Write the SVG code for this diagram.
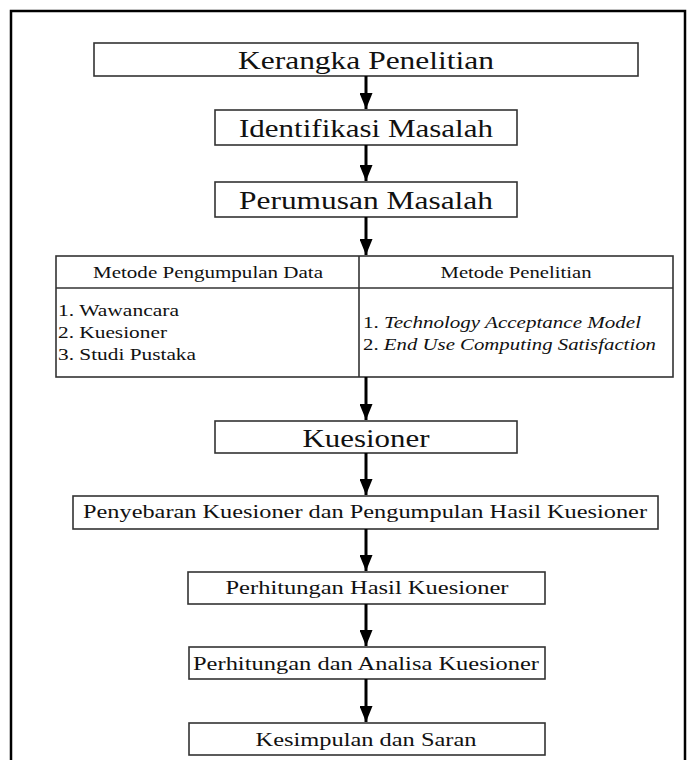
<svg xmlns="http://www.w3.org/2000/svg" width="688" height="760" viewBox="0 0 688 760">
  <defs>
    <style>
      .box { fill: #ffffff; stroke: #333333; stroke-width: 1.6; }
      .frame { fill: none; stroke: #000000; stroke-width: 2.5; }
      .edge { stroke: #000000; stroke-width: 3; fill: none; }
      .t { font-family: "Liberation Serif", "Times New Roman", serif; fill: #111111; }
      .big { font-size: 25px; text-anchor: middle; }
      .mid { font-size: 19.5px; text-anchor: middle; }
      .hdr { font-size: 17.5px; text-anchor: middle; }
      .item { font-size: 17.5px; }
      .it { font-style: italic; }
    </style>
    <marker id="arrow" viewBox="0 0 16 13" refX="16" refY="6.5" markerWidth="16" markerHeight="13" markerUnits="userSpaceOnUse" orient="auto">
      <path d="M0,0 L16,6.5 L0,13 Z" fill="#000000"/>
    </marker>
  </defs>

  <rect width="688" height="760" fill="#ffffff"/>

  <!-- outer frame, open at the bottom -->
  <path class="frame" d="M11,760 V11 H685 V760"/>

  <g id="kerangka">
    <rect class="box" x="94" y="43" width="544" height="33"/>
    <text class="t big" x="366" y="69" textLength="256" lengthAdjust="spacingAndGlyphs">Kerangka Penelitian</text>
  </g>

  <g id="identifikasi">
    <rect class="box" x="215" y="110" width="302" height="35"/>
    <text class="t big" x="366" y="137" textLength="254" lengthAdjust="spacingAndGlyphs">Identifikasi Masalah</text>
  </g>

  <g id="perumusan">
    <rect class="box" x="215" y="182" width="302" height="35"/>
    <text class="t big" x="366" y="209" textLength="254" lengthAdjust="spacingAndGlyphs">Perumusan Masalah</text>
  </g>

  <g id="metode">
    <rect class="box" x="56" y="256" width="617" height="121"/>
    <line class="box" x1="56" y1="288" x2="673" y2="288"/>
    <line class="box" x1="359" y1="256" x2="359" y2="377"/>
    <text class="t hdr" x="208" y="278" textLength="230" lengthAdjust="spacingAndGlyphs">Metode Pengumpulan Data</text>
    <text class="t hdr" x="516" y="278" textLength="151" lengthAdjust="spacingAndGlyphs">Metode Penelitian</text>
    <text class="t item" x="58" y="316" textLength="121" lengthAdjust="spacingAndGlyphs">1. Wawancara</text>
    <text class="t item" x="58" y="338" textLength="109" lengthAdjust="spacingAndGlyphs">2. Kuesioner</text>
    <text class="t item" x="58" y="360" textLength="138" lengthAdjust="spacingAndGlyphs">3. Studi Pustaka</text>
    <text class="t item" x="363" y="328" textLength="278" lengthAdjust="spacingAndGlyphs">1. <tspan class="it">Technology Acceptance Model</tspan></text>
    <text class="t item" x="363" y="350" textLength="293" lengthAdjust="spacingAndGlyphs">2. <tspan class="it">End Use Computing Satisfaction</tspan></text>
  </g>

  <g id="kuesioner">
    <rect class="box" x="215" y="421" width="302" height="32"/>
    <text class="t big" x="366" y="447" textLength="127" lengthAdjust="spacingAndGlyphs">Kuesioner</text>
  </g>

  <g id="penyebaran">
    <rect class="box" x="73" y="496" width="585" height="33"/>
    <text class="t mid" x="365" y="518" textLength="564" lengthAdjust="spacingAndGlyphs">Penyebaran Kuesioner dan Pengumpulan Hasil Kuesioner</text>
  </g>

  <g id="hasil">
    <rect class="box" x="188" y="572" width="357" height="32"/>
    <text class="t mid" x="367" y="594" textLength="283" lengthAdjust="spacingAndGlyphs">Perhitungan Hasil Kuesioner</text>
  </g>

  <g id="analisa">
    <rect class="box" x="189" y="647" width="356" height="32"/>
    <text class="t mid" x="366" y="670" textLength="346" lengthAdjust="spacingAndGlyphs">Perhitungan dan Analisa Kuesioner</text>
  </g>

  <g id="kesimpulan">
    <rect class="box" x="189" y="723" width="356" height="32"/>
    <text class="t mid" x="366" y="746" textLength="221" lengthAdjust="spacingAndGlyphs">Kesimpulan dan Saran</text>
  </g>

  <g id="connectors">
    <line class="edge" x1="366" y1="76" x2="366" y2="109" marker-end="url(#arrow)"/>
    <line class="edge" x1="366" y1="145" x2="366" y2="181" marker-end="url(#arrow)"/>
    <line class="edge" x1="366" y1="217" x2="366" y2="255" marker-end="url(#arrow)"/>
    <line class="edge" x1="366" y1="377" x2="366" y2="420" marker-end="url(#arrow)"/>
    <line class="edge" x1="366" y1="453" x2="366" y2="495" marker-end="url(#arrow)"/>
    <line class="edge" x1="366" y1="529" x2="366" y2="571" marker-end="url(#arrow)"/>
    <line class="edge" x1="366" y1="604" x2="366" y2="646" marker-end="url(#arrow)"/>
    <line class="edge" x1="366" y1="679" x2="366" y2="722" marker-end="url(#arrow)"/>
  </g>
</svg>
